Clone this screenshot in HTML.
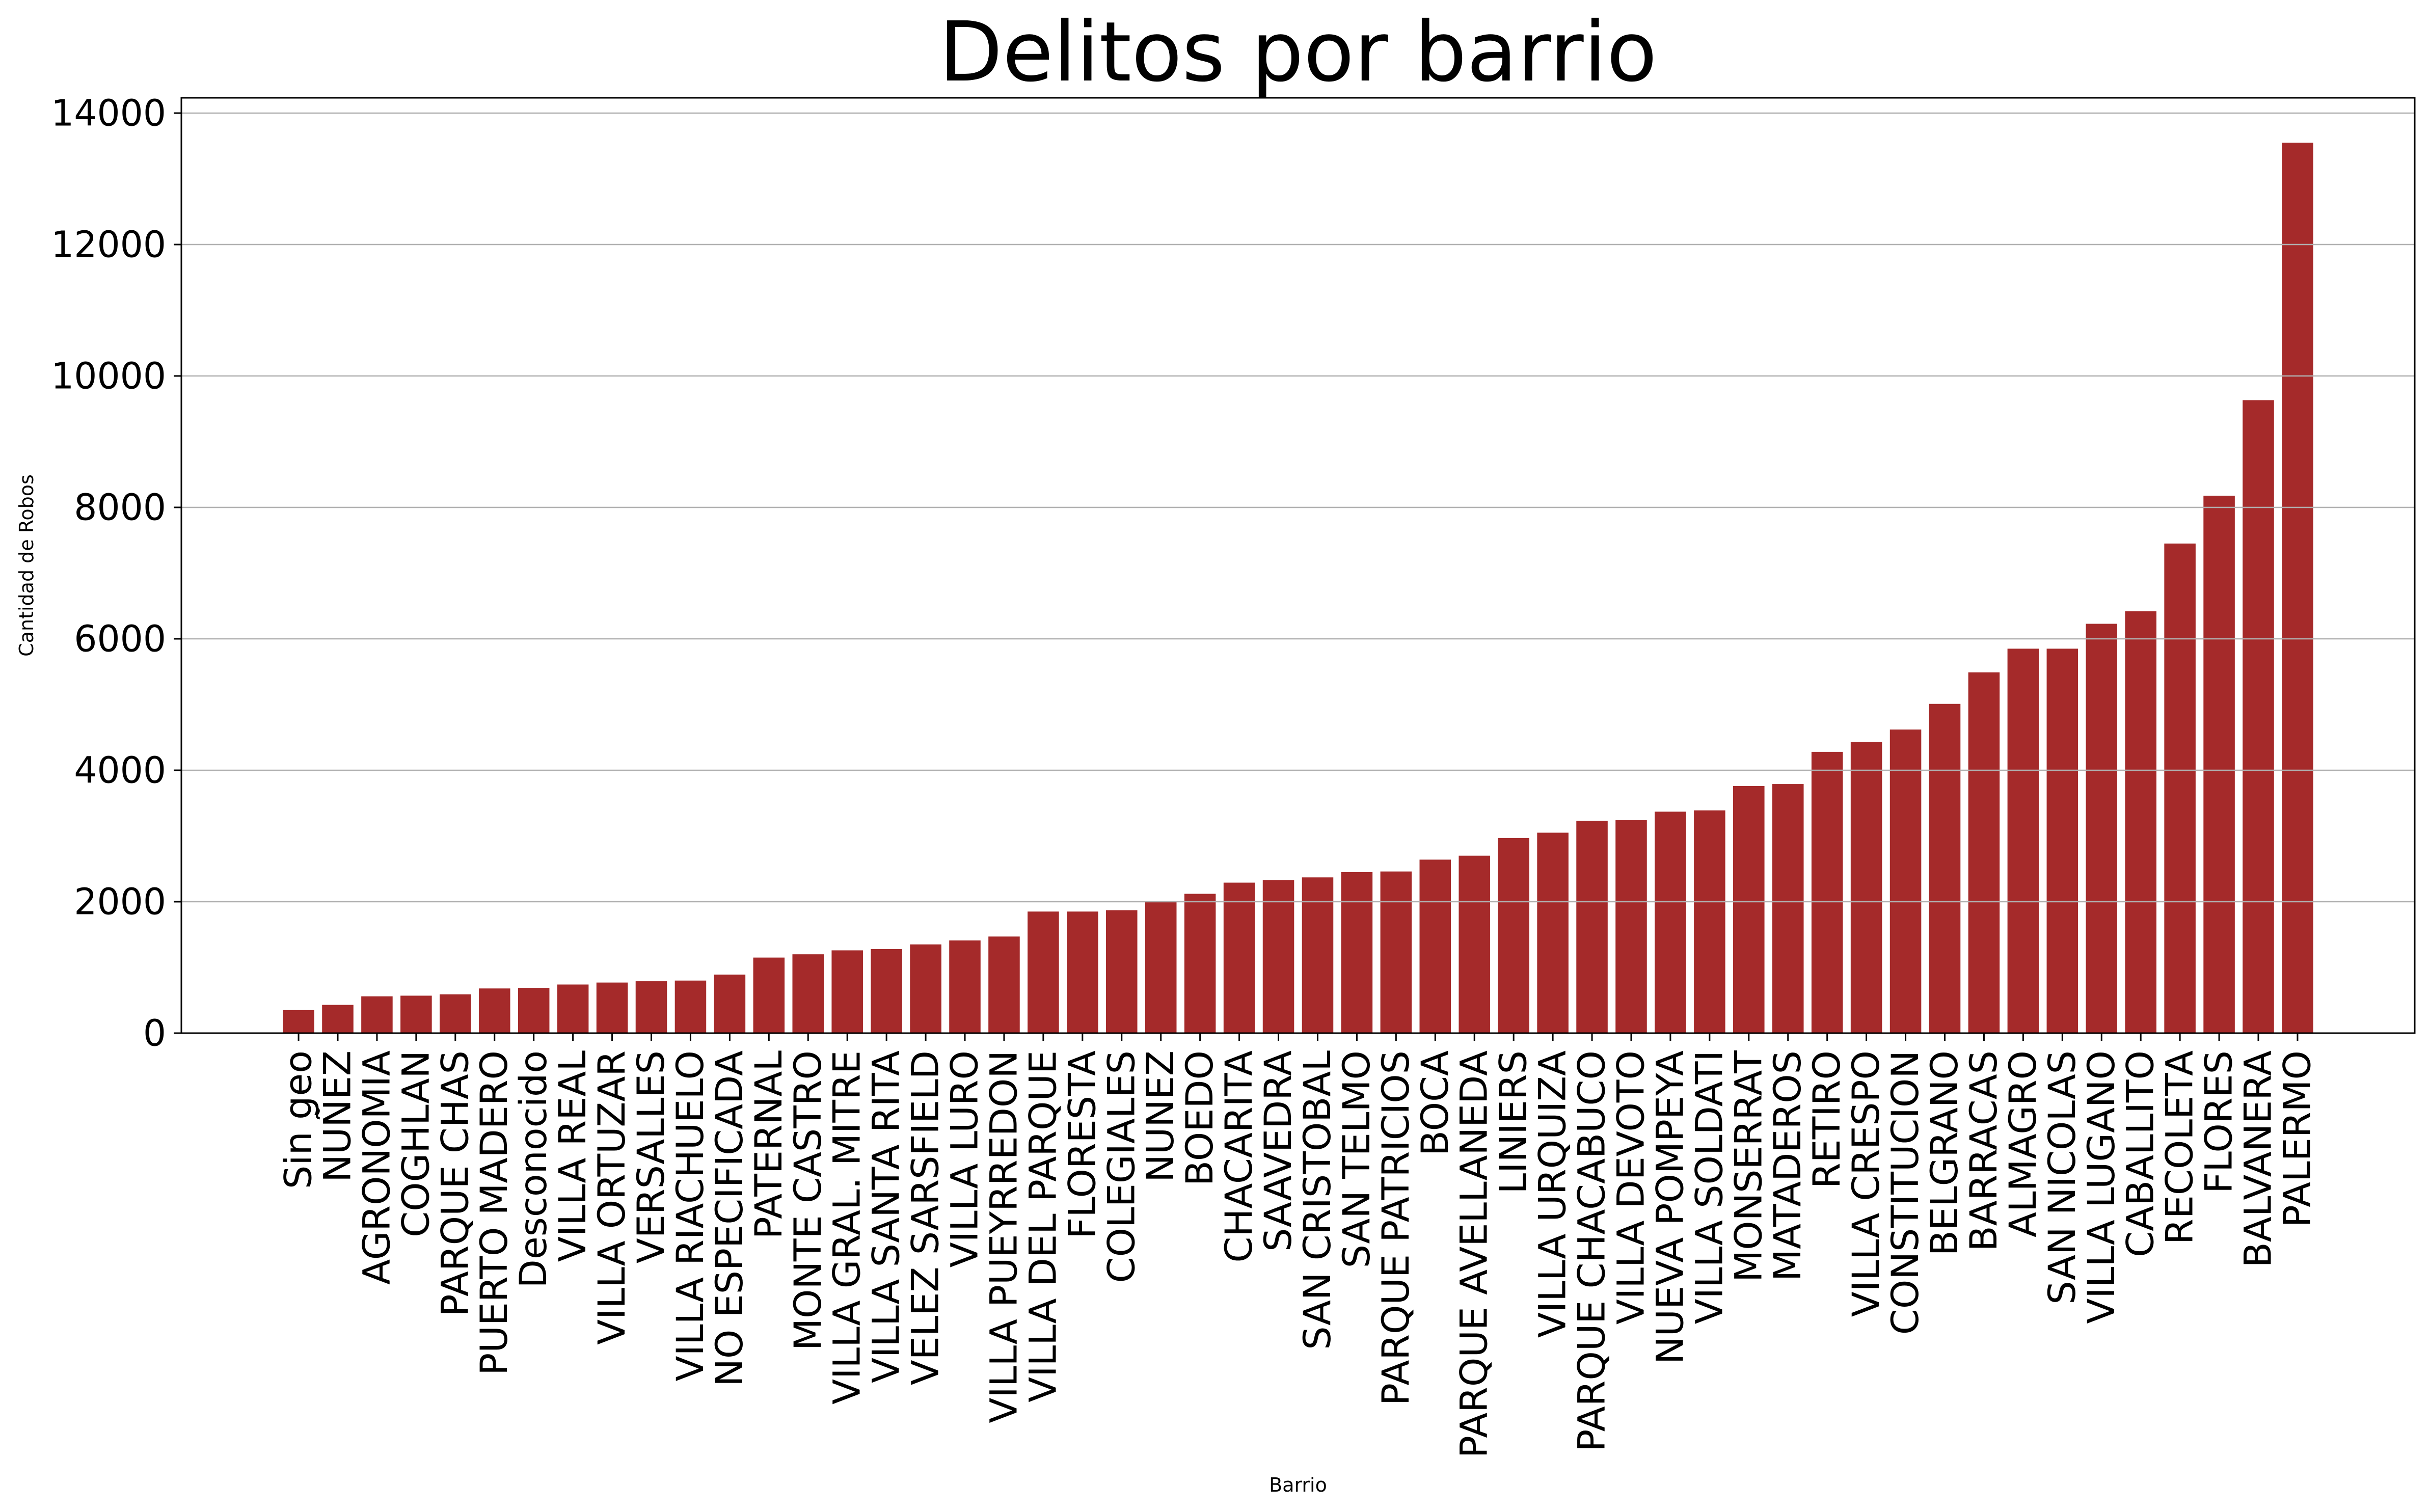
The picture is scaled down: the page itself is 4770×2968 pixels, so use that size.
<!DOCTYPE html>
<html><head><meta charset="utf-8"><style>html,body{margin:0;padding:0;background:#fff}svg{display:block}</style></head>
<body>
<svg id="chart" xmlns="http://www.w3.org/2000/svg" width="4770" height="2968" viewBox="0 0 4770 2968" font-family="'DejaVu Sans','Liberation Sans',sans-serif">
<rect x="0" y="0" width="4770" height="2968" fill="#fff"/>
<text x="2548" y="158" font-size="162" text-anchor="middle">Delitos por barrio</text>
<text transform="translate(52,1110) rotate(-90)" font-size="38" text-anchor="middle" dominant-baseline="central">Cantidad de Robos</text>
<text x="2548" y="2928" font-size="38" text-anchor="middle">Barrio</text>
<g id="grid"></g>
<g id="bars"></g>
<g id="ygrid"></g>
<g id="yticks"></g>
<g id="xticks"></g>
<rect x="356" y="192" width="4384" height="1836" fill="none" stroke="#000" stroke-width="3"/>
</svg>
<script>
const categories = ["Sin geo","NUÑEZ","AGRONOMIA","COGHLAN","PARQUE CHAS","PUERTO MADERO","Desconocido","VILLA REAL","VILLA ORTUZAR","VERSALLES","VILLA RIACHUELO","NO ESPECIFICADA","PATERNAL","MONTE CASTRO","VILLA GRAL. MITRE","VILLA SANTA RITA","VELEZ SARSFIELD","VILLA LURO","VILLA PUEYRREDON","VILLA DEL PARQUE","FLORESTA","COLEGIALES","NUNEZ","BOEDO","CHACARITA","SAAVEDRA","SAN CRISTOBAL","SAN TELMO","PARQUE PATRICIOS","BOCA","PARQUE AVELLANEDA","LINIERS","VILLA URQUIZA","PARQUE CHACABUCO","VILLA DEVOTO","NUEVA POMPEYA","VILLA SOLDATI","MONSERRAT","MATADEROS","RETIRO","VILLA CRESPO","CONSTITUCION","BELGRANO","BARRACAS","ALMAGRO","SAN NICOLAS","VILLA LUGANO","CABALLITO","RECOLETA","FLORES","BALVANERA","PALERMO"];
const robos = [350,430,560,570,590,680,690,740,770,790,800,890,1150,1200,1260,1280,1350,1410,1470,1850,1850,1870,2000,2120,2290,2330,2370,2450,2460,2640,2700,2970,3050,3230,3240,3370,3390,3760,3790,4280,4430,4620,5010,5490,5850,5850,6229,6419,7450,8178,9632,13550];
const yTicks = [0,2000,4000,6000,8000,10000,12000,14000];

const NS = "http://www.w3.org/2000/svg";
const X0 = 356, X1 = 4740, Y0 = 2028, Y1 = 192;
const xMin = -2.99, xMax = categories.length - 1 + 2.99;
const yPerUnit = 258 / 2000;
function xScale(i){ return X0 + (i - xMin) / (xMax - xMin) * (X1 - X0); }
function yScale(v){ return Y0 - v * yPerUnit; }
const step = xScale(1) - xScale(0);
const bw = step * 0.8;

function mk(tag, attrs){ const e = document.createElementNS(NS, tag); for (const k in attrs) e.setAttribute(k, attrs[k]); return e; }

const bars = document.getElementById('bars');
robos.forEach((v, i) => {
  const r = mk('rect', {x: xScale(i) - bw/2, y: yScale(v), width: bw, height: Y0 - yScale(v), fill: '#a52a2a'});
  
  
  bars.appendChild(r);
});

const yg = document.getElementById('ygrid');
const yt = document.getElementById('yticks');
yTicks.forEach(t => {
  const y = yScale(t);
  const g = mk('line', {x1: X0, x2: X1, y1: y, y2: y, stroke: '#b0b0b0', 'stroke-width': 2.5});
  
  
  yg.appendChild(g);
  const tk = mk('line', {x1: X0 - 15, x2: X0, y1: y, y2: y, stroke: '#000', 'stroke-width': 3});
  
  
  yt.appendChild(tk);
  const lb = mk('text', {x: X0 - 30, y: y, 'font-size': 71, 'text-anchor': 'end', 'dominant-baseline': 'central'});
  lb.textContent = String(t);
  
  
  yt.appendChild(lb);
});

const xt = document.getElementById('xticks');
categories.forEach((c, i) => {
  const x = xScale(i);
  const tk = mk('line', {x1: x, x2: x, y1: Y0, y2: Y0 + 15, stroke: '#000', 'stroke-width': 3});
  
  
  xt.appendChild(tk);
  const lb = mk('text', {transform: 'translate(' + x + ',' + (Y0 + 34) + ') rotate(-90)', 'font-size': 73, 'text-anchor': 'end', 'dominant-baseline': 'central'});
  lb.textContent = c;
  
  
  xt.appendChild(lb);
});
</script>
</body></html>
